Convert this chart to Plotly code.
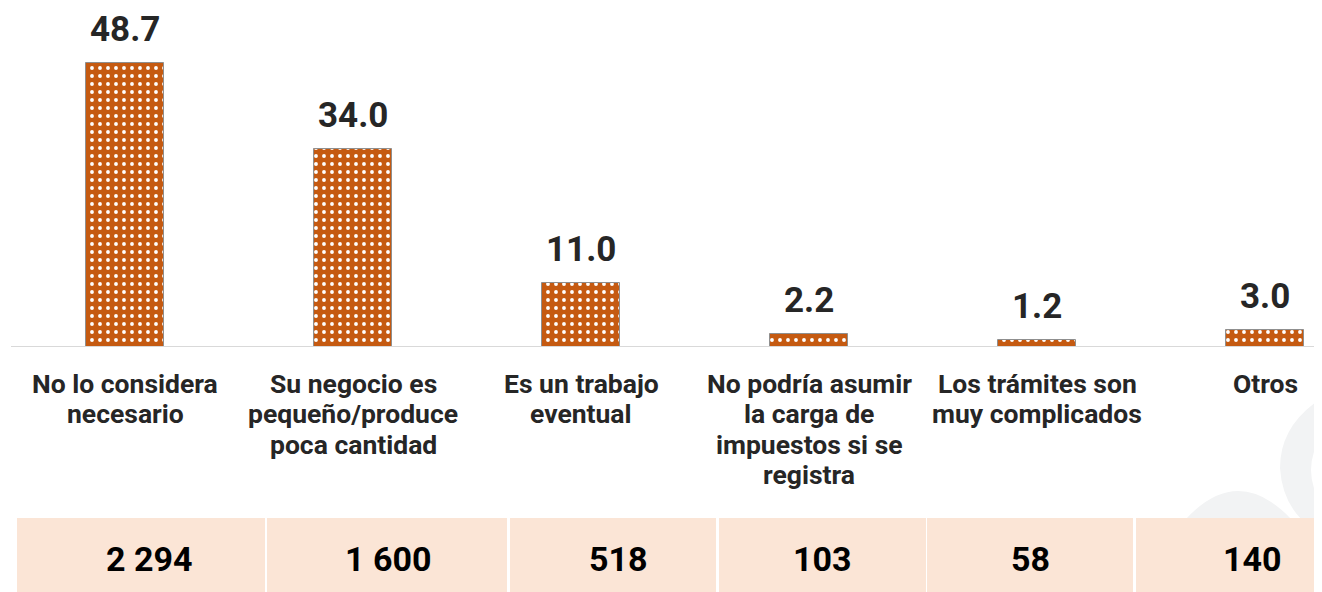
import plotly.graph_objects as go

categories = [
    ["No lo considera", "necesario"],
    ["Su negocio es", "pequeño/produce", "poca cantidad"],
    ["Es un trabajo", "eventual"],
    ["No podría asumir", "la carga de", "impuestos si se", "registra"],
    ["Los trámites son", "muy complicados"],
    ["Otros"],
]
percentages = [48.7, 34.0, 11.0, 2.2, 1.2, 3.0]
counts = ["2 294", "1 600", "518", "103", "58", "140"]

# page body has an 8px margin: figure occupies 8..1322 x 8..592
OX, OY = 8, 8
W, H = 1322 - OX, 592 - OY
BASE = 347  # px of baseline (page coords)
PXU = 284 / 48.7  # px per unit


def px(x):
    return (x - OX) / W


def py(y):
    return 1 - (y - OY) / H


xs = list(range(len(categories)))

fig = go.Figure()
fig.add_trace(go.Bar(
    x=xs, y=percentages, width=0.342,
    marker=dict(
        color="#C55A11",
        line=dict(color="#8f8f8f", width=1),
        pattern=dict(shape=".", bgcolor="#C55A11", fgcolor="#ffffff",
                     size=8, solidity=0.18, fillmode="replace"),
    ),
    hoverinfo="skip",
))

annotations = []
for i, v in enumerate(percentages):
    annotations.append(dict(
        x=i, y=v, xref="x", yref="y", text=f"<b>{v:.1f}</b>",
        showarrow=False, yanchor="bottom", yshift=12, borderpad=0,
        font=dict(family="Roboto", size=35, color="#262626"),
    ))
LINE_H = 30.5
for i, lines in enumerate(categories):
    for k, line in enumerate(lines):
        annotations.append(dict(
            x=i, y=py(383 + k * LINE_H), xref="x", yref="paper", text=f"<b>{line}</b>",
            showarrow=False, yanchor="middle", align="center",
            font=dict(family="Roboto", size=26.5, color="#262626"),
        ))

# table cells
cell_edges = [(17, 265), (267, 507), (510, 716), (719, 926), (927, 1133), (1136, 1368)]
text_centers = [149, 388, 618, 822, 1030, 1252]
shapes = []

# faint watermark
shapes.append(dict(type="path", xref="paper", yref="paper", layer="below",
                   path=f"M {px(1185)} {py(520)} Q {px(1238)} {py(462)} {px(1292)} {py(520)} Z",
                   fillcolor="#f2f3f4", line=dict(width=0)))
shapes.append(dict(type="path", xref="paper", yref="paper", layer="below",
                   path=(f"M {px(1322)} {py(398)} Q {px(1280)} {py(425)} {px(1280)} {py(468)} "
                         f"Q {px(1282)} {py(500)} {px(1302)} {py(520)} L {px(1322)} {py(520)} "
                         f"L {px(1322)} {py(505)} Q {px(1300)} {py(470)} {px(1322)} {py(435)} Z"),
                   fillcolor="#f2f3f4", line=dict(width=0)))

for (x0, x1), tc, cnt in zip(cell_edges, text_centers, counts):
    shapes.append(dict(type="rect", xref="paper", yref="paper",
                       x0=px(x0), x1=px(x1), y0=py(600), y1=py(518),
                       fillcolor="#FBE5D6", line=dict(width=0), layer="below"))
    annotations.append(dict(
        x=px(tc), y=py(559), xref="paper", yref="paper", text=f"<b>{cnt}</b>",
        showarrow=False, xanchor="center", yanchor="middle",
        font=dict(family="Roboto", size=34, color="#000000"),
    ))

# baseline
shapes.append(dict(type="line", xref="x", yref="y", x0=-0.5, x1=5.8, y0=0, y1=0,
                   line=dict(color="#d9d9d9", width=2)))

base_fig = BASE - OY
ymax = base_fig / PXU
c0 = 125 - OX
fig.update_layout(
    width=W, height=H,
    margin=dict(l=0, r=0, t=0, b=0),
    paper_bgcolor="#ffffff", plot_bgcolor="rgba(0,0,0,0)",
    showlegend=False,
    xaxis=dict(range=[-c0 / 228, (W - c0) / 228], visible=False, fixedrange=True),
    yaxis=dict(range=[0, ymax], domain=[1 - base_fig / H, 1], visible=False, fixedrange=True),
    annotations=annotations, shapes=shapes,
    bargap=0,
)

fig.write_html("out.html")
